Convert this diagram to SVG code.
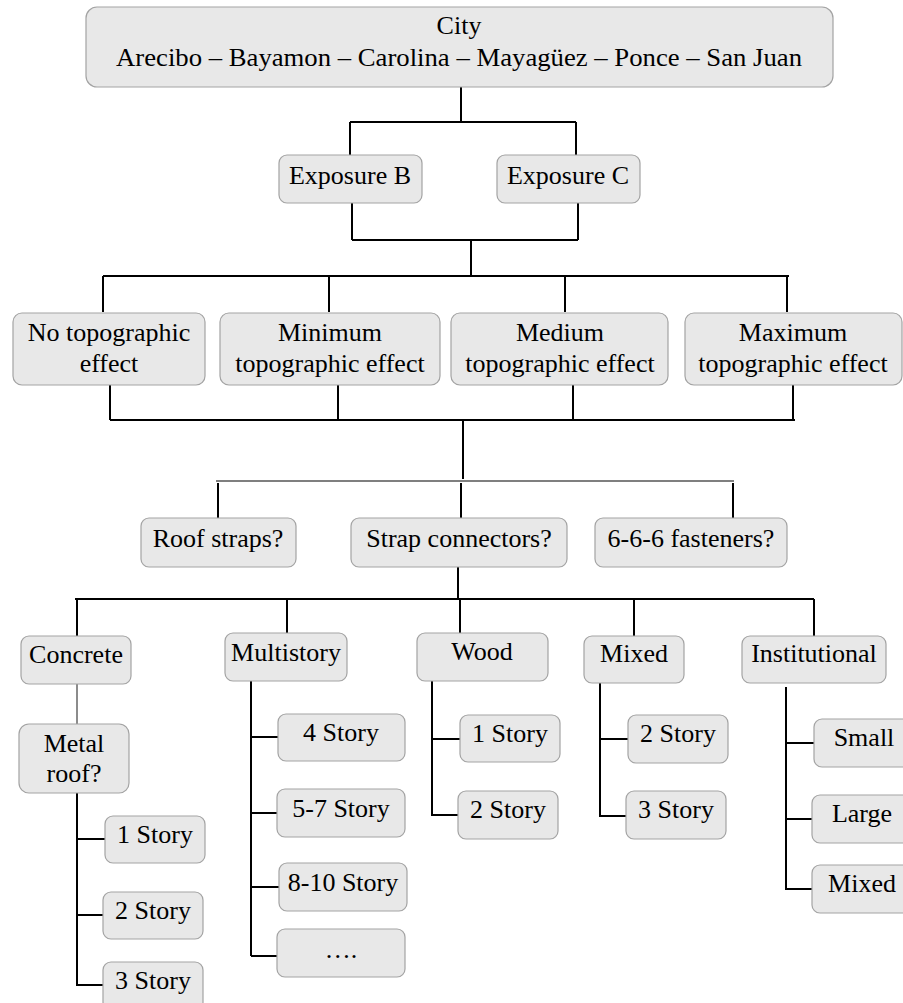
<svg xmlns="http://www.w3.org/2000/svg" width="903" height="1003" viewBox="0 0 903 1003">
<style>
.b{fill:#e8e8e8;stroke:#a3a3a3;stroke-width:1.2}
.c{stroke:#000;stroke-width:2;fill:none}
.thin{stroke:#000;stroke-width:1.2;fill:none}
.g{stroke:#666;stroke-width:1.5;fill:none}
</style>
<rect width="903" height="1003" fill="#fff"/>
<g id="connectors">
<path class="c" d="M461 87V122M350 122H576M350 122V155M576 122V155"/>
<path class="c" d="M352 203V240M578 203V240M352 240H578M471 240V276"/>
<path class="c" d="M103 276H789M103 276V312M329 276V312M565 276V312M787 276V312"/>
<path class="c" d="M110 385V420M338 385V420M573 385V420M793 385V420M110 420H795M463 420V479"/>
<path class="thin" d="M216 481H734"/>
<path class="c" d="M218 483V518M461 483V518M733 483V518"/>
<path class="c" d="M458 567V599M75 599H814M77 599V636M287 599V633M460 599V633M634 599V636M814 599V636"/>
<path class="g" d="M77 684V724"/>
<path class="c" d="M77 793V986M77 839H105M77 915H103M77 985H103"/>
<path class="c" d="M251 681V956M251 737H278M251 813H277M251 887H279M251 956H277"/>
<path class="c" d="M432 681V816M432 739H460M432 815H458"/>
<path class="c" d="M600 683V817M600 739H628M600 816H626"/>
<path class="c" d="M786 687V890M786 743H814M786 819H812M786 889H812"/>
</g>
<g font-family="Liberation Serif, DejaVu Serif, serif" font-size="26" text-anchor="middle" fill="#000">
<g id="city"><rect class="b" x="86" y="7" width="747" height="80" rx="11"/><text x="459" y="34">City</text><text x="459" y="66" textLength="686" lengthAdjust="spacingAndGlyphs">Arecibo – Bayamon – Carolina – Mayagüez – Ponce – San Juan</text></g>
<g id="expB"><rect class="b" x="279" y="155" width="143" height="48" rx="8"/><text x="350" y="184">Exposure B</text></g>
<g id="expC"><rect class="b" x="497" y="155" width="143" height="48" rx="8"/><text x="568" y="184">Exposure C</text></g>
<g id="noTopo"><rect class="b" x="13" y="313" width="192" height="72" rx="9"/><text x="109" y="341">No topographic</text><text x="109" y="372">effect</text></g>
<g id="minTopo"><rect class="b" x="220" y="313" width="220" height="72" rx="9"/><text x="330" y="341">Minimum</text><text x="330" y="372">topographic effect</text></g>
<g id="medTopo"><rect class="b" x="451" y="313" width="217" height="72" rx="9"/><text x="560" y="341">Medium</text><text x="560" y="372">topographic effect</text></g>
<g id="maxTopo"><rect class="b" x="685" y="313" width="217" height="72" rx="9"/><text x="793" y="341">Maximum</text><text x="793" y="372">topographic effect</text></g>
<g id="roof"><rect class="b" x="141" y="518" width="155" height="49" rx="8"/><text x="218" y="547">Roof straps?</text></g>
<g id="strap"><rect class="b" x="351" y="518" width="216" height="49" rx="8"/><text x="459" y="547">Strap connectors?</text></g>
<g id="fast"><rect class="b" x="595" y="518" width="192" height="49" rx="8"/><text x="691" y="547">6-6-6 fasteners?</text></g>
<g id="concrete"><rect class="b" x="21" y="636" width="110" height="48" rx="8"/><text x="76" y="663">Concrete</text></g>
<g id="multi"><rect class="b" x="225" y="633" width="122" height="48" rx="8"/><text x="286" y="661">Multistory</text></g>
<g id="wood"><rect class="b" x="417" y="633" width="131" height="48" rx="8"/><text x="482" y="660">Wood</text></g>
<g id="mixed"><rect class="b" x="584" y="636" width="100" height="47" rx="8"/><text x="634" y="662">Mixed</text></g>
<g id="inst"><rect class="b" x="742" y="636" width="144" height="47" rx="8"/><text x="814" y="662">Institutional</text></g>
<g id="metal"><rect class="b" x="19" y="724" width="110" height="69" rx="10"/><text x="74" y="752">Metal</text><text x="74" y="782">roof?</text></g>
<g id="c1"><rect class="b" x="105" y="816" width="100" height="47" rx="8"/><text x="155" y="843">1 Story</text></g>
<g id="c2"><rect class="b" x="103" y="892" width="100" height="47" rx="8"/><text x="153" y="919">2 Story</text></g>
<g id="c3"><rect class="b" x="103" y="962" width="100" height="48" rx="8"/><text x="153" y="989">3 Story</text></g>
<g id="m4"><rect class="b" x="278" y="714" width="127" height="47" rx="8"/><text x="341" y="741">4 Story</text></g>
<g id="m57"><rect class="b" x="277" y="789" width="128" height="48" rx="8"/><text x="341" y="817">5-7 Story</text></g>
<g id="m810"><rect class="b" x="279" y="863" width="128" height="48" rx="8"/><text x="343" y="891">8-10 Story</text></g>
<g id="mdots"><rect class="b" x="277" y="929" width="128" height="48" rx="8"/><text x="341" y="958">….</text></g>
<g id="w1"><rect class="b" x="460" y="715" width="100" height="47" rx="8"/><text x="510" y="742">1 Story</text></g>
<g id="w2"><rect class="b" x="458" y="791" width="100" height="48" rx="8"/><text x="508" y="818">2 Story</text></g>
<g id="x2"><rect class="b" x="628" y="715" width="100" height="48" rx="8"/><text x="678" y="742">2 Story</text></g>
<g id="x3"><rect class="b" x="626" y="791" width="100" height="48" rx="8"/><text x="676" y="818">3 Story</text></g>
<g id="small"><rect class="b" x="814" y="719" width="100" height="48" rx="8"/><text x="864" y="746">Small</text></g>
<g id="large"><rect class="b" x="812" y="795" width="100" height="48" rx="8"/><text x="862" y="822">Large</text></g>
<g id="imixed"><rect class="b" x="812" y="865" width="100" height="48" rx="8"/><text x="862" y="892">Mixed</text></g>
</g>
</svg>
